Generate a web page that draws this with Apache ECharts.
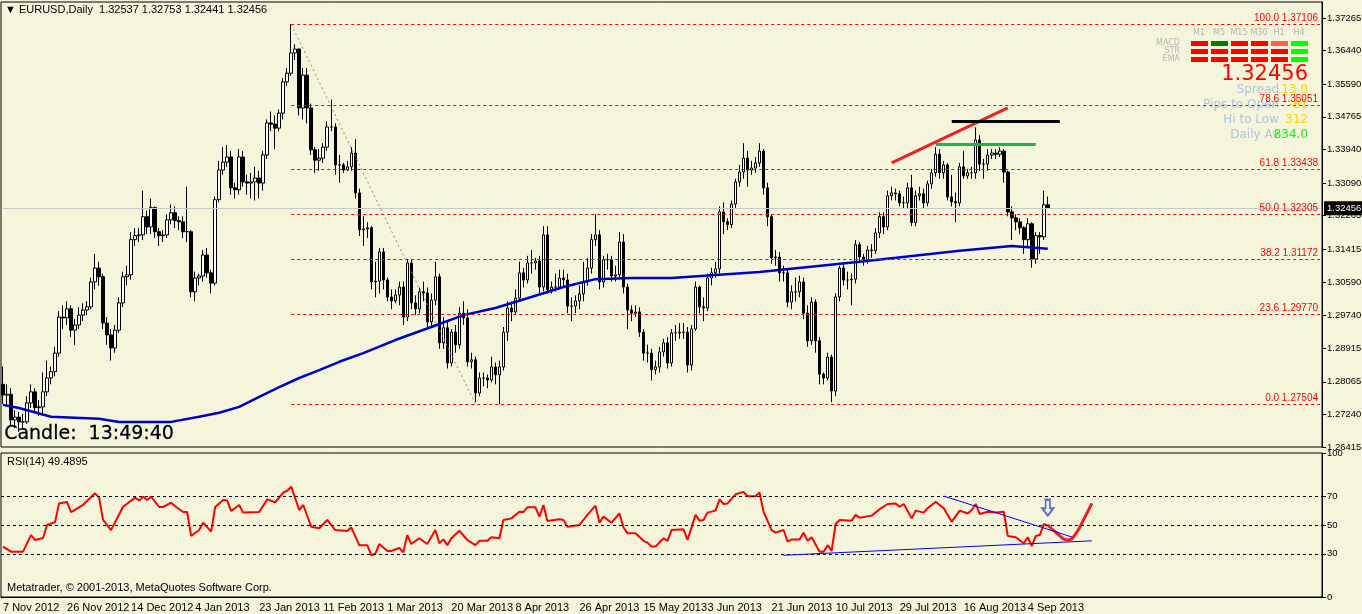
<!DOCTYPE html>
<html>
<head>
<meta charset="utf-8">
<script src="https://cdn.jsdelivr.net/npm/echarts@6/dist/echarts.min.js"></script>
<style>
  html,body{margin:0;padding:0;background:#f5f5dc;}
  #main{width:1362px;height:614px;}
</style>
</head>
<body>
<div id="main"></div>
<script>
// ===== 数据 (价格 x 10000) =====
var firstOpen = 12800;
var closes = [
12773,12775,12710,12717,12705,12705,12753,12781,12741,12743,
12781,12816,12832,12879,12970,12968,12991,12937,12950,12975,
12988,12996,13059,13094,13072,12955,12925,12892,12937,13006,
13072,13077,13166,13176,13178,13224,13198,13247,13186,13176,
13178,13216,13234,13214,13211,13186,13186,13034,13069,13074,
13127,13082,13056,13267,13342,13362,13375,13297,13292,13375,
13312,13309,13312,13322,13309,13380,13461,13458,13448,13486,
13565,13587,13638,13648,13499,13582,13499,13393,13367,13372,
13400,13451,13451,13355,13355,13342,13350,13385,13284,13191,
13193,13196,13059,13061,13135,13064,13021,13011,13026,13046,
12970,13107,13006,12991,13034,13031,12958,13013,13072,12905,
12943,12854,12932,12900,12980,12968,12857,12862,12778,12816,
12816,12811,12844,12824,12844,12932,12993,12983,13018,13082,
13064,13107,13107,13112,13046,13178,13039,13046,13046,13069,
13064,12998,12998,13011,13029,13059,13094,13166,13178,13059,
13115,13115,13074,13077,13160,13046,12988,12980,12983,12932,
12879,12879,12837,12844,12882,12905,12854,12930,12930,12932,
12932,12849,12940,13046,12996,12993,13069,13082,13092,13236,
13211,13204,13256,13312,13337,13372,13342,13347,13360,13390,
13297,13224,13120,13122,13082,13082,13008,13034,13034,13059,
12980,12910,13008,12910,12826,12816,12869,12783,13021,13094,
13064,13064,13066,13153,13122,13115,13140,13138,13183,13224,
13198,13277,13284,13282,13259,13259,13297,13209,13277,13282,
13259,13307,13335,13382,13335,13355,13274,13262,13259,13350,
13327,13335,13335,13418,13357,13357,13380,13385,13382,13390,
13337,13236,13221,13211,13196,13166,13206,13117,13176,13173,
13254,13246];
var highs = [
12845,12800,12790,12735,12730,12725,12770,12800,12790,12760,
12830,12860,12845,12895,12985,13000,13010,13000,12965,12995,
13005,13010,13070,13130,13110,13080,12970,12940,12950,13020,
13085,13100,13185,13195,13195,13290,13240,13270,13250,13195,
13190,13230,13255,13250,13225,13225,13300,13190,13085,13080,
13140,13145,13090,13275,13365,13400,13405,13390,13310,13395,
13390,13330,13335,13350,13340,13390,13470,13490,13480,13495,
13575,13600,13711,13660,13650,13600,13600,13510,13400,13395,
13410,13465,13520,13460,13380,13360,13365,13400,13420,13295,
13225,13210,13200,13110,13145,13145,13070,13040,13040,13060,
13060,13115,13115,13025,13045,13060,13045,13030,13110,13080,
12970,12960,12940,12950,12995,13010,12990,12880,12870,12830,
12830,12825,12870,12855,12860,12945,13010,13010,13040,13110,
13095,13125,13140,13120,13125,13200,13200,13060,13080,13090,
13090,13080,13020,13025,13050,13110,13120,13180,13230,13190,
13125,13130,13125,13100,13185,13180,13055,13000,13000,12995,
12940,12900,12890,12860,12895,12915,12920,12940,12950,12955,
12955,12945,12950,13060,13050,13020,13080,13095,13110,13250,
13260,13220,13265,13320,13355,13410,13390,13365,13375,13410,
13395,13310,13230,13140,13135,13100,13090,13050,13070,13075,
13070,13000,13020,13015,12920,12830,12880,12875,13030,13100,
13105,13085,13080,13165,13160,13130,13150,13155,13195,13235,
13235,13290,13300,13295,13290,13275,13310,13330,13290,13300,
13295,13315,13345,13400,13395,13365,13360,13330,13285,13360,
13390,13345,13350,13450,13430,13370,13395,13395,13395,13400,
13395,13340,13250,13230,13220,13200,13220,13210,13185,13185,
13290,13275];
var lows = [
12750,12745,12695,12690,12680,12685,12700,12740,12730,12720,
12720,12770,12800,12820,12870,12940,12950,12920,12900,12940,
12960,12975,12990,13040,13050,12940,12900,12860,12880,12930,
12995,13050,13065,13150,13160,13165,13180,13180,13170,13150,
13160,13170,13205,13195,13190,13170,13160,13020,13010,13050,
13060,13070,13030,13050,13260,13330,13350,13280,13270,13280,
13300,13280,13270,13265,13270,13290,13370,13440,13395,13440,
13470,13555,13580,13620,13480,13470,13460,13380,13335,13340,
13360,13390,13440,13330,13310,13335,13340,13340,13270,13175,
13150,13170,13040,13020,13030,13040,13010,12990,13005,13000,
12950,12960,12990,12975,12980,13010,12940,12945,13000,12890,
12890,12840,12845,12880,12890,12950,12845,12840,12755,12770,
12795,12790,12805,12800,12750,12835,12910,12960,12975,13010,
13045,13055,13080,13090,13030,13035,13030,13030,13035,13040,
13045,12980,12960,12980,12990,13010,13050,13080,13150,13040,
13045,13090,13060,13060,13070,13030,12940,12960,12970,12920,
12860,12855,12810,12825,12830,12870,12840,12845,12910,12915,
12915,12830,12835,12935,12980,12960,12985,13050,13070,13080,
13180,13190,13195,13245,13300,13320,13300,13330,13335,13350,
13280,13200,13105,13100,13060,13060,12995,12990,13010,13020,
12965,12895,12900,12880,12800,12800,12810,12755,12770,13010,
13050,13040,13000,13055,13110,13100,13105,13120,13130,13170,
13180,13190,13265,13265,13250,13245,13245,13200,13200,13265,
13245,13250,13295,13325,13320,13320,13265,13250,13210,13250,
13320,13320,13320,13320,13340,13320,13340,13370,13370,13375,
13310,13225,13165,13190,13180,13130,13150,13095,13105,13130,
13165,13244];
// 均线 (bar index, 价格x10000)
var maPoints = [[0,12748],[4,12740],[12,12718],[24,12713],[29,12705],[42,12705],[49,12718],
  [54,12728],[59,12743],[64,12768],[69,12793],[74,12816],[79,12836],[84,12857],[90,12879],
  [98,12912],[107,12945],[115,12975],[123,12993],[132,13021],[140,13046],[148,13066],
  [157,13069],[167,13069],[189,13084],[214,13110],[239,13138],[252,13150],[261,13143]];
// RSI(14)
var rsiPoints = [[0,35],[2,31.5],[5,31.5],[7,43],[8,39.6],[10,41],[11,50],[13,52],[14,65],[16,66],[17,59],
  [20,64],[23,72],[24,69],[25,53.5],[27,46.5],[30,62.7],[33,69],[34,67],[35,69.7],[36,67.4],[37,69.7],
  [39,62.5],[40,62.5],[42,65.5],[43,63],[45,59],[46,59],[47,42.4],[49,46.5],[50,51.6],[52,45.4],
  [53,62.5],[55,67.4],[56,67],[57,59.7],[59,63.9],[60,58.6],[64,59],[66,67.8],[68,65.8],[70,72.5],
  [71,73.8],[72,76.6],[74,60.4],[75,63.9],[77,48.8],[79,47.7],[81,53.5],[83,46.5],[86,45.8],[87,48.4],
  [89,36],[91,36],[92,29],[93,30],[94,36.8],[96,32],[97,32],[99,34],[100,31],[101,43],[102,36.8],
  [104,40.8],[106,36.8],[108,46.5],[109,37.3],[110,40],[111,36],[112,40.8],[114,46],[116,39.6],
  [118,36],[119,39],[121,39],[122,41.5],[124,40.8],[125,53.5],[127,54.6],[129,59.2],[130,59],
  [131,62.3],[133,62.3],[134,55.8],[135,63.9],[136,52.8],[139,54],[140,53.5],[141,48.8],[144,50],
  [146,57],[148,63.4],[149,51.6],[150,55.8],[152,51.6],[154,58],[155,48.4],[156,44.2],[158,44.2],
  [160,39],[161,37.7],[162,35],[163,35],[165,40.8],[166,39],[167,46.5],[170,47],[171,39.6],[173,57],
  [174,53],[175,53.5],[176,58.6],[178,60],[179,67.8],[180,64.6],[181,65],[183,71.3],[185,73],[186,70],
  [188,70],[189,72.5],[190,59.2],[192,46.5],[193,44.7],[195,46.5],[196,38.4],[197,40],[199,40],
  [200,44.7],[201,39],[202,41.5],[204,31.5],[205,31.5],[206,36],[207,32],[208,50.7],[209,53.5],
  [212,53],[213,57],[214,55],[217,56.5],[219,61],[221,64.6],[223,65],[224,62.7],[225,64.6],[227,54.6],
  [228,60],[230,58.6],[231,61.6],[233,66.2],[235,61.6],[237,52.3],[239,60],[241,58],[242,60.4],
  [243,64.6],[244,57.6],[246,59.2],[248,58.6],[250,59.2],[251,42.4],[253,41.5],[255,37.3],[256,41.5],
  [257,35.4],[258,42.4],[259,43],[260,50.7],[261,49.4895]];
var fibLevels = [1.37106, 1.35051, 1.33438, 1.32305, 1.31172, 1.29770, 1.27504];
var fibNames = ['100.0', '78.6', '61.8', '50.0', '38.2', '23.6', '0.0'];
var priceTicks = [1.37265,1.36440,1.35590,1.34765,1.33940,1.33090,1.32265,1.31415,1.30590,1.29740,1.28915,1.28065,1.27240,1.26415];
var rsiTicks = [100, 70, 50, 30, 0];
var dateLabels = ['7 Nov 2012','26 Nov 2012','14 Dec 2012','4 Jan 2013','23 Jan 2013','11 Feb 2013','1 Mar 2013',
  '20 Mar 2013','8 Apr 2013','26 Apr 2013','15 May 2013','3 Jun 2013','21 Jun 2013','10 Jul 2013',
  '29 Jul 2013','16 Aug 2013','4 Sep 2013'];
var lastPrice = 1.32456;
var totalBars = 330;

// ===== 构建 =====
var cats = [];
for (var i = 0; i < totalBars; i++) cats.push(i % 16 === 0 && dateLabels[i / 16] ? dateLabels[i / 16] : '');
var candles = closes.map(function (c, i) {
  var o = i === 0 ? firstOpen : closes[i - 1];
  return [o / 1e4, c / 1e4, lows[i] / 1e4, highs[i] / 1e4];
});
var ma = maPoints.map(function (p) { return [p[0], p[1] / 1e4]; });

var font = 'Liberation Sans';
var fibLines = fibLevels.map(function (v, k) {
  return [{ coord: [72, v], label: { formatter: fibNames[k] + ' ' + v.toFixed(5) } }, { coord: [totalBars - 1, v] }];
});

var myChart = echarts.init(document.getElementById('main'));
var option = {
  backgroundColor: '#f5f5dc',
  animation: false,
  grid: [
    { left: 1, right: 40, top: 2, height: 445, show: true, borderColor: '#000', borderWidth: 1, outerBoundsMode: 'none', containLabel: false },
    { left: 1, right: 40, top: 453, height: 144, show: true, borderColor: '#000', borderWidth: 1, outerBoundsMode: 'none', containLabel: false }
  ],
  xAxis: [
    { type: 'category', gridIndex: 0, data: cats, boundaryGap: true,
      axisLine: { show: false }, axisTick: { show: false }, axisLabel: { show: false } },
    { type: 'category', gridIndex: 1, data: cats, boundaryGap: true,
      axisLine: { lineStyle: { color: '#000' } },
      axisTick: { interval: function (i) { return i % 16 === 0; }, length: 3, lineStyle: { color: '#000' } },
      axisLabel: { interval: function (i) { return i % 16 === 0; }, align: 'left', margin: 5,
        fontFamily: font, fontSize: 11, color: '#000' } }
  ],
  yAxis: [
    { type: 'value', gridIndex: 0, position: 'right', min: 1.26415, max: 1.3767, scale: true,
      splitLine: { show: false }, axisLine: { show: true, lineStyle: { color: '#000' } },
      axisTick: { show: true, customValues: priceTicks, length: 4, lineStyle: { color: '#000' } },
      axisLabel: { customValues: priceTicks, fontFamily: font, fontSize: 9.5, color: '#000', margin: 5, align: 'left',
        formatter: function (v) { return v.toFixed(5); } } },
    { type: 'value', gridIndex: 1, position: 'right', min: 0, max: 100,
      splitLine: { show: false }, axisLine: { show: true, lineStyle: { color: '#000' } },
      axisTick: { show: true, customValues: rsiTicks, length: 4, lineStyle: { color: '#000' } },
      axisLabel: { customValues: rsiTicks, fontFamily: font, fontSize: 9.5, color: '#000', margin: 5, align: 'left' } }
  ],
  series: [
    { type: 'candlestick', xAxisIndex: 0, yAxisIndex: 0, data: candles, barWidth: 3,
      itemStyle: { color: '#ffffff', color0: '#000000', borderColor: '#000', borderColor0: '#000', borderWidth: 1 },
      markLine: { silent: true, symbol: 'none', animation: false,
        lineStyle: { color: '#ff0000', type: [3, 3], width: 1 },
        label: { position: 'insideEndTop', color: '#ff0000', fontFamily: font, fontSize: 10, distance: [2, 1] },
        data: fibLines.concat([
          [{ coord: [0, lastPrice], lineStyle: { color: '#c8c8c8', type: 'solid' }, label: { show: false } },
           { coord: [totalBars - 1, lastPrice] }],
          [{ coord: [72, 1.37106], lineStyle: { color: '#888', type: [2, 3] }, label: { show: false } },
           { coord: [118, 1.27504] }],
          [{ coord: [222, 1.3360], lineStyle: { color: '#ee2020', type: 'solid', width: 3 }, label: { show: false } },
           { coord: [251, 1.3499] }],
          [{ coord: [237, 1.3466], lineStyle: { color: '#000', type: 'solid', width: 3 }, label: { show: false } },
           { coord: [264, 1.3466] }],
          [{ coord: [233, 1.3406], lineStyle: { color: '#22b14c', type: 'solid', width: 3 }, label: { show: false } },
           { coord: [258, 1.3406] }]
        ])
      } },
    { type: 'line', xAxisIndex: 0, yAxisIndex: 0, data: ma, showSymbol: false,
      lineStyle: { color: '#0000cc', width: 2.5 } },
    { type: 'line', xAxisIndex: 1, yAxisIndex: 1, data: rsiPoints, showSymbol: false,
      lineStyle: { color: '#ff0000', width: 2 },
      markLine: { silent: true, symbol: 'none', label: { show: false },
        lineStyle: { color: '#000', type: [3, 3], width: 1 },
        data: [{ yAxis: 70 }, { yAxis: 50 }, { yAxis: 30 },
          [{ coord: [195, 29], lineStyle: { color: '#0000ff', type: 'solid', width: 1 } }, { coord: [272, 39] }],
          [{ coord: [235, 70.1], lineStyle: { color: '#0000ff', type: 'solid', width: 1 } }, { coord: [267, 41.7] }]] } },
    { type: 'line', xAxisIndex: 1, yAxisIndex: 1, smooth: true, showSymbol: false,
      data: [[261, 50], [263, 45], [265.5, 39.5], [268, 44], [270, 54], [272, 65]],
      lineStyle: { color: '#ee1c24', width: 3 } },
    { type: 'scatter', xAxisIndex: 1, yAxisIndex: 1, data: [[261, 62]],
      symbol: 'path://M3,0 L7,0 L7,7 L10,7 L5,13 L0,7 L3,7 Z', symbolSize: [11, 16],
      itemStyle: { color: 'rgba(0,0,0,0)', borderColor: '#3f48cc', borderWidth: 2 } }
  ],
  graphic: [
    { type: 'text', left: 5, top: 4, style: { text: '▼ EURUSD,Daily  1.32537 1.32753 1.32441 1.32456', font: '11px Liberation Sans', fill: '#000' } },
    { type: 'text', left: 4, top: 424, style: { text: 'Candle:  13:49:40', font: '19px DejaVu Sans', fill: '#000', stroke: '#0b1e5b', lineWidth: 0.3 } },
    { type: 'text', left: 7, top: 456, style: { text: 'RSI(14) 49.4895', font: '11px Liberation Sans', fill: '#000' } },
    { type: 'text', left: 7, top: 582, style: { text: 'Metatrader, © 2001-2013, MetaQuotes Software Corp.', font: '11px Liberation Sans', fill: '#000' } }
  ]
};

// 右上角信息面板
var tf = ['M1', 'M5', 'M15', 'M30', 'H1', 'H4'];
var boxColors = [
  ['#ff0000', '#008000', '#ff0000', '#ff0000', '#ff6347', '#00ff00'],
  ['#ff0000', '#ff0000', '#ff0000', '#ff0000', '#ff0000', '#00ff00'],
  ['#ff0000', '#ff0000', '#ff0000', '#ff0000', '#ff0000', '#00ff00']
];
var rowNames = ['MACD', 'STR', 'EMA'];
tf.forEach(function (t, k) {
  option.graphic.push({ type: 'text', x: 1199 + k * 20, y: 29, style: { text: t, font: '8px DejaVu Sans', fill: '#b4b4b4', align: 'center' } });
});
rowNames.forEach(function (r, j) {
  option.graphic.push({ type: 'text', x: 1180, y: 39 + j * 8, style: { text: r, font: '8px DejaVu Sans', fill: '#b4b4b4', align: 'right' } });
  boxColors[j].forEach(function (c, k) {
    option.graphic.push({ type: 'rect', shape: { x: 1191 + k * 20, y: 41 + j * 8, width: 17, height: 5 }, style: { fill: c } });
  });
});
option.graphic.push(
  { type: 'text', x: 1308, y: 64, style: { text: '1.32456', font: '21px DejaVu Sans', fill: '#ff0000', align: 'right' } },
  { type: 'text', x: 1279, y: 84, style: { text: 'Spread', font: '12px DejaVu Sans', fill: '#b0c4de', align: 'right' } },
  { type: 'text', x: 1308, y: 84, style: { text: '13.0', font: '12px DejaVu Sans', fill: '#ffd700', align: 'right' } },
  { type: 'text', x: 1279, y: 99, style: { text: 'Pips to Open', font: '12px DejaVu Sans', fill: '#b0c4de', align: 'right' } },
  { type: 'text', x: 1308, y: 99, style: { text: '-81', font: '12px DejaVu Sans', fill: '#ffd700', align: 'right' } },
  { type: 'text', x: 1279, y: 114, style: { text: 'Hi to Low', font: '12px DejaVu Sans', fill: '#b0c4de', align: 'right' } },
  { type: 'text', x: 1308, y: 114, style: { text: '312', font: '12px DejaVu Sans', fill: '#ffd700', align: 'right' } },
  { type: 'text', x: 1279, y: 129, style: { text: 'Daily Av', font: '12px DejaVu Sans', fill: '#b0c4de', align: 'right' } },
  { type: 'text', x: 1308, y: 129, style: { text: '834.0', font: '12px DejaVu Sans', fill: '#00ff00', align: 'right' } }
);

myChart.setOption(option);

// 当前价格标签 (右轴)
var py = myChart.convertToPixel({ yAxisIndex: 0 }, lastPrice);
var px = myChart.convertToPixel({ xAxisIndex: 0 }, totalBars - 1) + 3;
myChart.setOption({ graphic: option.graphic.concat([
  { type: 'rect', shape: { x: px + 1, y: py - 7, width: 38, height: 14 }, style: { fill: '#000' }, z: 10 },
  { type: 'text', x: px + 4, y: py - 5, style: { text: lastPrice.toFixed(5), font: '9.5px Liberation Sans', fill: '#fff' }, z: 11 }
]) });
</script>
</body>
</html>
